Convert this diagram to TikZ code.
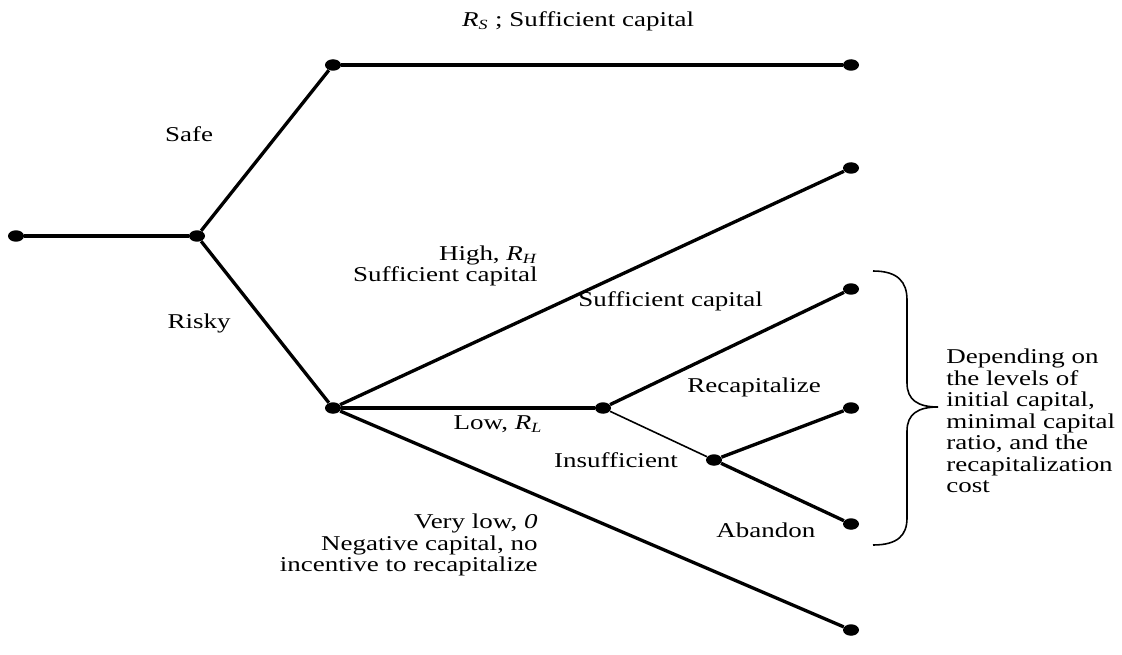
\documentclass[tikz,border=0pt]{standalone}
\usepackage{fontspec}
\setmainfont{Liberation Serif}[FakeStretch=1.28]
\usepackage{tikz}
\usetikzlibrary{shapes.geometric}

\begin{document}
\begin{tikzpicture}[
  x=0.02cm, y=-0.02cm,
  dot/.style={
    ellipse, fill=black, inner sep=0pt,
    minimum width=3.2mm, minimum height=2.3mm
  },
  branch/.style={line width=1.9pt},
  thinbranch/.style={line width=0.9pt},
  lbl/.style={font=\fontsize{12}{12.2}\selectfont, inner sep=0pt}
]
\useasboundingbox (0,0) rectangle (1122,655);

% DECISION NODES
\node[dot] (root) at (16,236) {};
\node[dot] (choice) at (197,236) {};
\node[dot] (safe) at (333,65) {};
\node[dot] (risky) at (333,408) {};
\node[dot] (low) at (603,408) {};
\node[dot] (insuff) at (714,460) {};

% END POINTS
\node[dot] (safeend) at (851,65) {};
\node[dot] (highend) at (851,168) {};
\node[dot] (suffend) at (851,289) {};
\node[dot] (recapend) at (851,408) {};
\node[dot] (abandonend) at (851,524) {};
\node[dot] (zeroend) at (851,630) {};

% BRANCHES
\draw[branch] (root) -- (choice);
\draw[branch] (choice) -- (safe);
\draw[branch] (choice) -- (risky);
\draw[branch] (safe) -- (safeend);
\draw[branch] (risky) -- (highend);
\draw[branch] (risky) -- (low);
\draw[branch] (risky) -- (zeroend);
\draw[branch] (low) -- (suffend);
\draw[thinbranch] (low) -- (insuff);
\draw[branch] (insuff) -- (recapend);
\draw[branch] (insuff) -- (abandonend);

% LABELS
\node[lbl] (lblsafeend) at (578,21) {\textit{R}\textsubscript{\textit{S}} ; Sufficient capital};
\node[lbl] (lblsafe) at (189,134) {Safe};
\node[lbl] (lblrisky) at (199,323) {Risky};
\node[lbl, anchor=east, align=right] (lblhigh) at (538,266)
  {High, \textit{R}\textsubscript{\textit{H}}\\Sufficient capital};
\node[lbl, anchor=west] (lblsuff) at (578,301) {Sufficient capital};
\node[lbl] (lbllow) at (498,424) {Low, \textit{R}\textsubscript{\textit{L}}};
\node[lbl] (lblinsuff) at (616,460) {Insufficient};
\node[lbl, anchor=west] (lblrecap) at (687,387) {Recapitalize};
\node[lbl, anchor=west] (lblabandon) at (716,530) {Abandon};
\node[lbl, anchor=east, align=right] (lblzero) at (538,545)
  {Very low, \textit{0}\\Negative capital, no\\incentive to recapitalize};

% BRACE AND NOTE
\draw[line width=0.9pt] (873,271) .. controls (898,271) and (907,282) .. (907,300)
  -- (907,383) .. controls (907,400) and (918,407) .. (938,407)
  .. controls (918,407) and (907,414) .. (907,431)
  -- (907,518) .. controls (907,535) and (898,545) .. (873,545);
\node[lbl, anchor=north west, align=left] (note) at (946,349)
  {Depending on\\the levels of\\initial capital,\\minimal capital\\ratio, and the\\recapitalization\\cost};

\end{tikzpicture}
\end{document}
